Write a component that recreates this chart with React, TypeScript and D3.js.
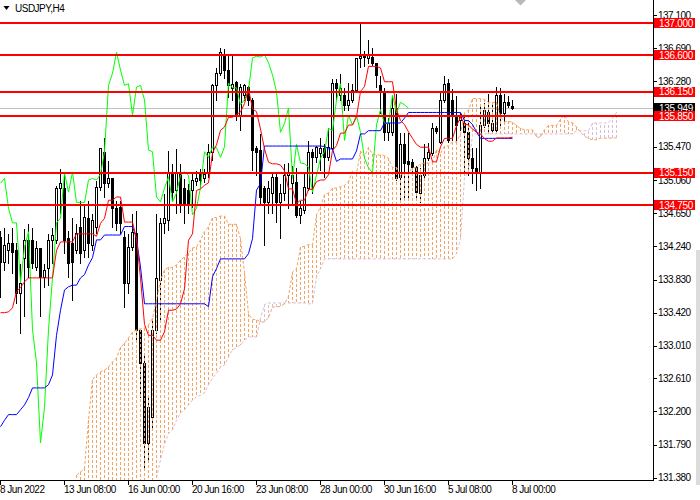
import React from 'react';
import * as d3 from 'd3';

// ---- Data (USDJPY, H4) ----
const opens = [134.36,134.05,134.19,134.28,134.19,133.66,134.10,134.32,134.32,133.98,134.22,133.86,133.97,134.32,134.32,134.96,134.96,134.34,134.28,134.19,134.48,134.19,134.59,134.26,134.48,134.97,135.41,135.02,135.08,134.71,134.73,134.36,133.79,134.23,134.40,133.21,132.80,131.81,132.13,133.21,133.82,134.53,134.57,135.15,134.94,135.16,134.96,134.94,134.94,135.05,135.15,135.08,135.15,135.41,136.23,136.38,136.61,136.42,136.20,136.27,135.86,136.11,136.21,136.05,135.46,135.43,134.96,134.79,134.90,135.10,134.79,134.90,135.12,135.02,135.04,134.63,134.69,134.96,135.41,135.34,135.39,135.46,135.34,135.46,136.26,136.11,136.11,135.99,136.05,136.17,136.57,136.59,136.57,136.58,136.51,136.23,136.15,135.65,135.65,135.95,135.10,135.50,135.30,135.28,135.22,134.90,135.12,135.33,135.39,135.70,135.53,136.05,136.26,136.05,135.84,135.80,135.76,135.65,135.33,135.21,135.15,135.74,135.90,135.68,135.68,136.11,135.89,136.02,135.98];
const highs = [134.44,134.48,134.40,134.48,134.29,134.03,134.47,134.53,134.48,134.32,134.22,134.03,134.40,134.48,135.00,135.21,135.15,134.44,134.60,134.53,134.81,134.78,134.81,134.65,135.06,135.47,135.59,135.31,135.08,134.81,134.81,134.44,134.40,134.65,134.69,133.23,132.90,132.40,133.35,134.65,134.60,134.90,135.43,135.27,135.46,135.27,135.08,135.02,135.15,135.18,135.21,135.21,135.52,136.26,136.46,136.70,136.69,136.63,136.63,136.30,136.26,136.26,136.23,136.09,135.49,135.64,135.00,135.06,135.15,135.15,135.02,135.27,135.28,135.25,135.22,134.81,135.16,135.55,135.46,135.49,135.59,135.52,135.72,136.32,136.32,136.38,136.21,136.27,136.26,136.58,137.00,136.67,136.80,136.70,136.52,136.36,136.21,135.84,136.11,136.14,135.65,135.65,135.65,135.33,135.25,135.22,135.52,135.53,135.78,135.74,136.15,136.36,136.32,136.20,136.11,135.90,135.89,135.80,135.47,135.47,135.99,136.02,136.14,136.02,136.22,136.21,136.14,136.11,136.06];
const lows = [133.61,133.95,134.03,133.91,133.54,133.17,133.38,133.86,133.97,133.95,133.38,133.74,133.76,134.03,134.28,134.65,134.16,133.86,133.58,134.16,134.03,134.11,134.11,134.19,134.40,134.94,134.85,134.97,134.48,134.44,134.40,133.49,133.66,134.19,133.08,132.38,131.47,131.60,131.97,133.17,133.33,134.40,134.44,134.81,134.65,134.66,134.53,134.65,134.73,135.00,134.97,135.04,135.10,135.31,136.05,136.36,136.32,136.09,136.05,135.80,135.68,136.05,135.99,135.18,135.12,134.75,134.26,134.65,134.65,134.54,134.34,134.81,134.71,134.75,134.60,134.53,134.65,134.94,134.90,135.28,135.18,135.10,135.31,135.43,136.05,136.05,135.93,135.93,136.02,136.15,136.46,136.47,136.51,136.48,136.21,135.89,135.55,135.55,135.62,135.06,134.79,134.81,134.81,135.12,134.85,134.79,135.10,135.31,135.37,135.64,135.52,136.02,135.53,135.55,135.55,135.68,135.15,135.12,135.02,134.94,134.96,135.72,135.65,135.65,135.65,135.72,135.78,135.96,135.94];
const closes = [134.05,134.26,134.28,134.17,133.66,133.79,134.32,133.98,134.03,134.22,133.86,133.95,134.32,134.38,134.96,135.02,134.32,134.03,134.05,134.40,134.16,134.60,134.28,134.57,134.97,135.46,135.02,135.08,134.71,134.53,134.53,133.79,134.23,134.42,133.21,132.80,131.81,132.25,133.21,133.85,134.53,134.59,135.15,134.91,135.16,134.78,134.78,134.78,135.06,135.08,135.06,135.13,135.41,136.23,136.38,136.64,136.42,136.23,136.25,135.86,136.21,136.23,136.05,135.43,135.41,134.85,134.79,134.96,135.10,134.79,134.90,135.12,135.16,135.12,134.63,134.71,134.97,135.41,135.34,135.47,135.46,135.34,135.47,136.26,136.20,136.20,135.99,136.05,136.17,136.57,136.59,136.58,136.61,136.51,136.36,136.15,135.65,135.76,135.95,135.08,135.50,135.27,135.26,135.22,134.91,135.12,135.33,135.41,135.70,135.67,136.05,136.25,135.55,135.86,135.74,135.86,135.65,135.33,135.21,135.15,135.74,135.93,135.76,135.76,136.11,135.89,136.02,135.99,135.949];

const tenkanLead = [133.42,133.42,133.43,133.48,133.68,133.73,133.80,133.85];
const kijunLead = [132.01,132.09,132.16,132.16,132.16,132.22,132.28,132.37,132.49,132.49,132.49,132.49,132.53,132.65,133.14,133.45,133.70,133.74,133.76,133.76,133.85,133.89,134.01,134.10,134.32];
const spanALead: (number | null)[] = [null,null,null,null,null,null,null,null,null,null,null,null,null,null,null,null,null,null,null,
  131.41,131.45,131.50,132.09,132.59,132.65,132.69,132.71,132.75,132.81,132.86,132.99,133.04,133.11,133.18,133.21,133.22,133.23,133.27,133.35,133.58,133.82,133.95,133.98,133.98,134.01,134.07,134.11,134.16,134.22,134.23,134.32];
const spanBLead: (number | null)[] = [null,null,null,null,null,null,null,null,null,null,null,null,null,null,null,null,null,null,null,null,null,null,null,null,null,null,null,null,null,null,null,null,null,null,null,null,null,null,null,
  131.38,131.60,131.79,131.93,131.97,132.09,132.18,132.22,132.28,132.34,132.38,132.40,132.43,132.53,132.61,132.67,132.75,132.77,132.87,132.96,132.99,133.02,133.08,133.12,133.12,133.12,133.35,133.52,133.54,133.54,133.54,133.54,133.54,133.54,133.54,133.54,133.54,133.54];

const levels = [137.0, 136.6, 136.15, 135.85, 135.15, 134.75];
const currentPrice = 135.949;
const priceTicks = [137.10,136.69,136.28,135.47,135.06,134.65,134.24,133.83,133.42,133.01,132.61,132.20,131.79,131.38];
const timeLabels = ['8 Jun 2022','13 Jun 08:00','16 Jun 00:00','20 Jun 16:00','23 Jun 08:00','28 Jun 00:00','30 Jun 16:00','5 Jul 08:00','8 Jul 00:00'];
const timeLabelBars = [0,16,32,48,64,80,96,112,128];
const symbolTitle = 'USDJPY,H4';
const shiftBar = 129;

const W = 700, H = 500;
const PLOT_R = 653, PLOT_B = 480;
const FONT = '"Liberation Sans", Arial, sans-serif';

export default function App() {
  const n = closes.length;
  const x = d3.scaleLinear().domain([0, 1]).range([0.5, 4.5]);
  const y = d3.scaleLinear().domain([131.38, 137.10]).range([477.7, 15.0]);

  const mid = (a: number, b: number) => ((d3.max(highs.slice(a, b + 1)) as number) + (d3.min(lows.slice(a, b + 1)) as number)) / 2;
  const tenkan = d3.range(n).map(i => (i < 8 ? tenkanLead[i] : mid(i - 8, i)));
  const kijun = d3.range(n).map(i => (i < 25 ? kijunLead[i] : mid(i - 25, i)));
  const nCloud = n + 26;
  const spanA = d3.range(nCloud).map(j => (j < 51 ? spanALead[j] : (tenkan[j - 26] + kijun[j - 26]) / 2));
  const spanB = d3.range(nCloud).map(j => (j < 77 ? spanBLead[j] : mid(j - 77, j - 26)));
  const chikou = d3.range(n - 26).map(i => closes[i + 26]);

  const line = d3.line<number>().x((_, i) => x(i)).y(d => y(d));
  const lineDef = d3.line<number | null>().defined(d => d != null).x((_, i) => x(i)).y(d => y(d as number));

  const snap = (v: number) => Math.round(v) + 0.5;
  const sx = x(shiftBar) + 4;

  return (
    <svg width={W} height={H} style={{ position: 'absolute', left: 0, top: 0, background: '#fff' }} fontFamily={FONT}>
      <rect x={0} y={0} width={W} height={H} fill="#fff" />
      <defs>
        <clipPath id="plot"><rect x={0} y={0} width={PLOT_R} height={PLOT_B} /></clipPath>
      </defs>
      <g clipPath="url(#plot)">
        {/* current price line */}
        <line x1={0} x2={PLOT_R} y1={snap(y(currentPrice))} y2={snap(y(currentPrice))} stroke="#C0C0C0" strokeWidth={1} shapeRendering="crispEdges" />
        {/* candles */}
        <g shapeRendering="crispEdges">
          {closes.map((c, i) => {
            const o = opens[i];
            const bull = c >= o;
            const top = snap(y(Math.max(o, c)));
            const bot = snap(y(Math.min(o, c)));
            return (
              <g key={i}>
                <line x1={x(i)} x2={x(i)} y1={snap(y(highs[i]))} y2={snap(y(lows[i]))} stroke="#000" strokeWidth={1} />
                <rect x={x(i) - 1} y={top} width={2} height={Math.max(bot - top, 0)} fill={bull ? '#fff' : '#000'} stroke="#000" strokeWidth={1} />
              </g>
            );
          })}
        </g>
        {/* cloud histogram */}
        <g shapeRendering="crispEdges">
          {spanA.map((a, j) => {
            if (a == null) return null;
            const b = spanB[j];
            const yb = b == null ? PLOT_B : y(b);
            const col = b == null || a >= b ? '#F4A460' : '#D8BFD8';
            return <line key={j} x1={x(j)} x2={x(j)} y1={Math.round(y(a))} y2={Math.round(yb)} stroke={col} strokeWidth={1} strokeDasharray="3,2" />;
          })}
        </g>
        <path d={lineDef(spanA) || ''} fill="none" stroke="#F4A460" strokeWidth={1} strokeDasharray="3,2" />
        <path d={lineDef(spanB) || ''} fill="none" stroke="#D8BFD8" strokeWidth={1} strokeDasharray="3,2" />
        {/* ichimoku lines */}
        <path d={line(chikou) || ''} fill="none" stroke="#00FF00" strokeWidth={1} />
        <path d={line(kijun) || ''} fill="none" stroke="#0000FF" strokeWidth={1} />
        <path d={line(tenkan) || ''} fill="none" stroke="#FF0000" strokeWidth={1} />
        {/* horizontal levels */}
        {levels.map(l => (
          <line key={l} x1={0} x2={PLOT_R} y1={Math.round(y(l))} y2={Math.round(y(l))} stroke="#FF0000" strokeWidth={2} shapeRendering="crispEdges" />
        ))}
        {/* chart shift marker */}
        <path d={`M${sx - 5.5},0 L${sx + 5.5},0 L${sx},5.5 Z`} fill="#B8B8B8" />
      </g>

      {/* title */}
      <path d="M3.5,6 L9.5,6 L6.5,10 Z" fill="#000" />
      <text x={15} y={11.5} fontSize={10} letterSpacing={-0.5} fill="#000">{symbolTitle}</text>

      {/* axes */}
      <g shapeRendering="crispEdges" stroke="#000" strokeWidth={1}>
        <line x1={PLOT_R + 0.5} x2={PLOT_R + 0.5} y1={0} y2={PLOT_B + 1} />
        <line x1={0} x2={PLOT_R + 1} y1={PLOT_B + 0.5} y2={PLOT_B + 0.5} />
        {priceTicks.map(t => (
          <line key={t} x1={PLOT_R} x2={PLOT_R + 4} y1={snap(y(t))} y2={snap(y(t))} />
        ))}
        {timeLabelBars.map(b => (
          <line key={b} x1={x(b)} x2={x(b)} y1={PLOT_B} y2={PLOT_B + 5} />
        ))}
      </g>
      {priceTicks.map(t => (
        <text key={t} x={658} y={y(t) + 3.5} fontSize={10} letterSpacing={-0.5} fill="#000">{t.toFixed(3)}</text>
      ))}
      {timeLabels.map((lab, k) => (
        <text key={lab} x={x(timeLabelBars[k]) - 0.5} y={493} fontSize={10} letterSpacing={-0.5} fill="#000">{lab}</text>
      ))}
      {/* current price label */}
      <rect x={654} y={Math.round(y(currentPrice)) - 5} width={41} height={10} fill="#000" />
      <text x={659} y={y(currentPrice) + 3.5} fontSize={10} letterSpacing={-0.3} fill="#fff">{currentPrice.toFixed(3)}</text>
      {/* level labels */}
      {levels.map(l => (
        <g key={l}>
          <rect x={654} y={Math.round(y(l)) - 5} width={41} height={10} fill="#FF0000" />
          <text x={659} y={y(l) + 3.5} fontSize={10} letterSpacing={-0.3} fill="#fff">{l.toFixed(3)}</text>
        </g>
      ))}
      <rect x={696} y={250} width={4} height={235} fill="#DCDCDC" />
    </svg>
  );
}
